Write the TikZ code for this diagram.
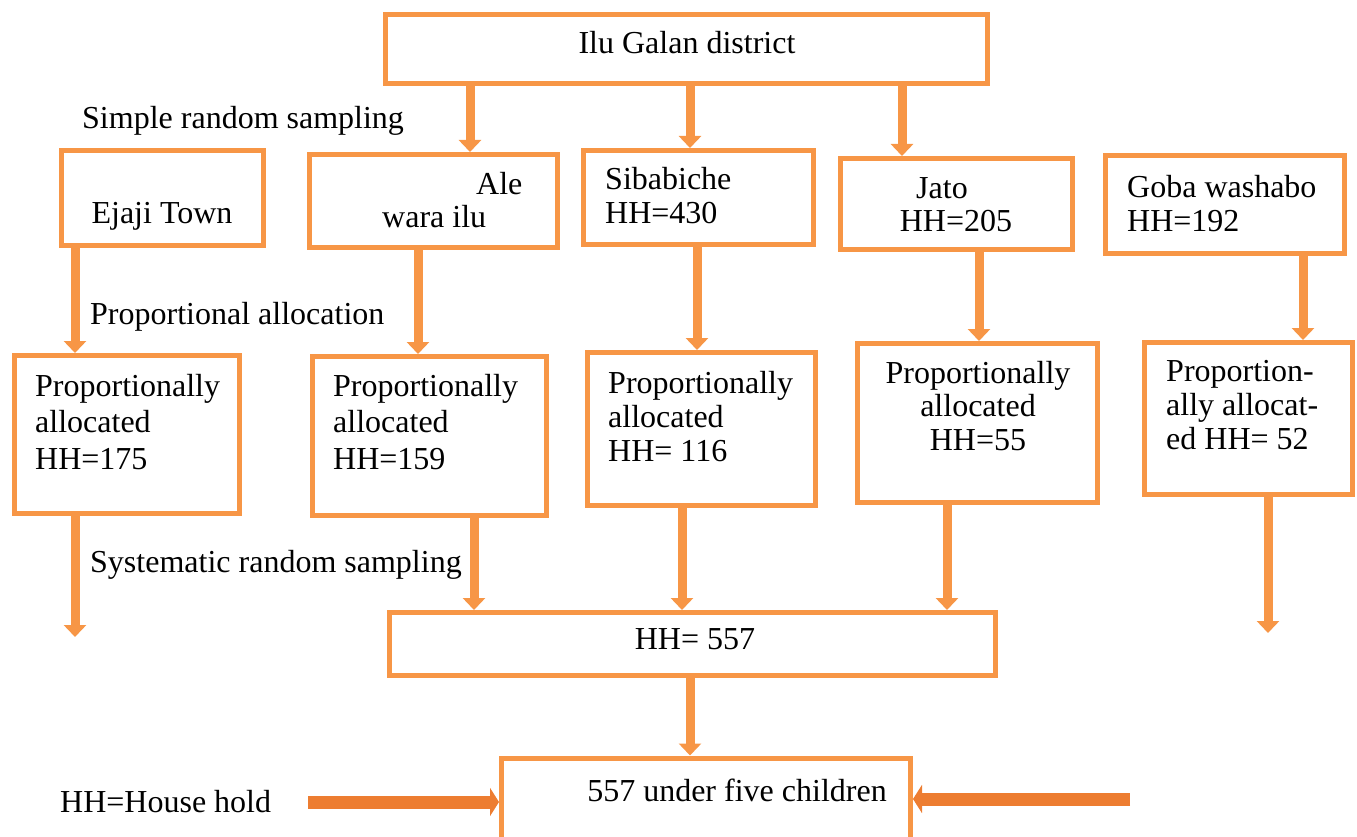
\documentclass[tikz,border=0pt]{standalone}
\usepackage{fontspec}
\setmainfont{Liberation Serif}
\usetikzlibrary{arrows.meta}
\definecolor{boxorange}{HTML}{F79646}
\definecolor{darkorange}{HTML}{ED7D31}
\begin{document}
\begin{tikzpicture}[x=1pt,y=-1pt,
  box/.style={draw=boxorange,line width=5pt,inner sep=0pt,fill=white},
  txt/.style={inner sep=0pt,font=\fontsize{32}{35}\selectfont,align=left,anchor=base west},
  varrow/.style={draw=boxorange,line width=9pt,-{Triangle[width=22pt,length=12pt]}},
  harrow/.style={draw=darkorange,line width=13pt,-{Triangle[width=28pt,length=9pt]}}
]
\useasboundingbox (0,0) rectangle (1357,837);
% boxes
\node[box,minimum width=602pt,minimum height=69pt] (top) at (686.5,49) {};
\node[box,minimum width=202pt,minimum height=95pt] (ejaji) at (162.5,198) {};
\node[box,minimum width=248pt,minimum height=93pt] (ale) at (433.5,201) {};
\node[box,minimum width=230pt,minimum height=94pt] (sib) at (698.5,197.5) {};
\node[box,minimum width=232pt,minimum height=91pt] (jato) at (956.5,204) {};
\node[box,minimum width=239pt,minimum height=98pt] (goba) at (1225,204.5) {};
\node[box,minimum width=225pt,minimum height=158pt] (p1) at (127,434.5) {};
\node[box,minimum width=234pt,minimum height=159pt] (p2) at (429.5,436) {};
\node[box,minimum width=228pt,minimum height=153pt] (p3) at (701.5,429) {};
\node[box,minimum width=240pt,minimum height=159pt] (p4) at (977.5,423) {};
\node[box,minimum width=208pt,minimum height=152pt] (p5) at (1248.5,418.5) {};
\node[box,minimum width=606pt,minimum height=63pt] (hh) at (692.5,644) {};
\node[box,minimum width=409pt,minimum height=84pt] (final) at (706,800) {};
% texts (base = baseline of last line)
\node[txt,anchor=base] (ttop) at (687,54) {Ilu Galan district};
\node[txt] (lsimple) at (82,129) {Simple random sampling};
\node[txt,anchor=base] (tejaji) at (162,224) {Ejaji Town};
\node[txt,font=\fontsize{32}{33}\selectfont] (tale) at (382,228) {\hspace*{94pt}Ale\\wara ilu};
\node[txt,font=\fontsize{32}{34}\selectfont] (tsib) at (605,223) {Sibabiche\\HH=430};
\node[txt,align=center,anchor=base,font=\fontsize{32}{33}\selectfont] (tjato) at (956,232) {\hspace*{-28pt}Jato\\HH=205};
\node[txt,font=\fontsize{32}{33}\selectfont] (tgoba) at (1127,231) {Goba washabo\\HH=192};
\node[txt] (lprop) at (90,324) {Proportional allocation};
\node[txt,font=\fontsize{32}{36.5}\selectfont] (tp1) at (35,469) {Proportionally\\allocated\\HH=175};
\node[txt,font=\fontsize{32}{36.5}\selectfont] (tp2) at (333,469) {Proportionally\\allocated\\HH=159};
\node[txt,font=\fontsize{32}{34}\selectfont] (tp3) at (608,461) {Proportionally\\allocated\\HH= 116};
\node[txt,align=center,anchor=base,font=\fontsize{32}{33.5}\selectfont] (tp4) at (978,450) {Proportionally\\allocated\\HH=55};
\node[txt,font=\fontsize{32}{34}\selectfont] (tp5) at (1166,449) {Proportion-\\ally allocat-\\ed HH= 52};
\node[txt] (lsys) at (90,572) {Systematic random sampling};
\node[txt,anchor=base] (thh) at (695,649) {HH= 557};
\node[txt,anchor=base] (tfinal) at (737,801) {557 under five children};
\node[txt] (lhh) at (60,812) {HH=House hold};
% free ends
\coordinate (e1) at (75,637);
\coordinate (e2) at (1268,633);
\coordinate (hl) at (308,802);
\coordinate (hr) at (1130,799);
% arrows
\draw[varrow] ([xshift=-216.5pt]top.south) -- ([xshift=36.5pt]ale.north);
\draw[varrow] ([xshift=3.5pt]top.south) -- ([xshift=-8.5pt]sib.north);
\draw[varrow] ([xshift=215.5pt]top.south) -- ([xshift=-54.5pt]jato.north);
\draw[varrow] ([xshift=-87.5pt]ejaji.south) -- ([xshift=-52pt]p1.north);
\draw[varrow] ([xshift=-15.5pt]ale.south) -- ([xshift=-11.5pt]p2.north);
\draw[varrow] ([xshift=-1.5pt]sib.south) -- ([xshift=-4.5pt]p3.north);
\draw[varrow] ([xshift=22.5pt]jato.south) -- ([xshift=1.5pt]p4.north);
\draw[varrow] ([xshift=78pt]goba.south) -- ([xshift=54.5pt]p5.north);
\draw[varrow] ([xshift=-52pt]p1.south) -- (e1);
\draw[varrow] ([xshift=44.5pt]p2.south) -- ([xshift=-218.5pt]hh.north);
\draw[varrow] ([xshift=-19.5pt]p3.south) -- ([xshift=-10.5pt]hh.north);
\draw[varrow] ([xshift=-30.5pt]p4.south) -- ([xshift=254.5pt]hh.north);
\draw[varrow] ([xshift=19.5pt]p5.south) -- (e2);
\draw[varrow] ([xshift=-2.5pt]hh.south) -- ([xshift=-16pt]final.north);
\draw[harrow] (hl) -- ([yshift=-2pt]final.west);
\draw[harrow] (hr) -- ([yshift=1pt]final.east);
\end{tikzpicture}
\end{document}
